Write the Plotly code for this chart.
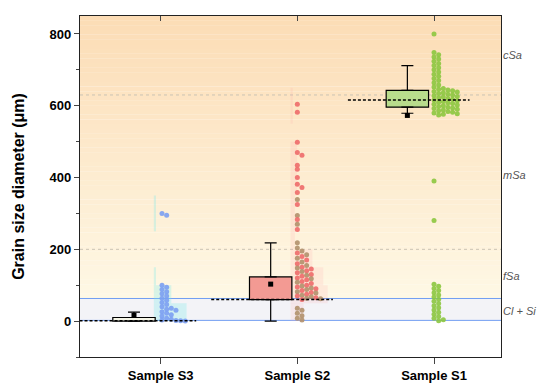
import numpy as np
import plotly.graph_objects as go

# ---------------- data ----------------
categories = ["Sample S3", "Sample S2", "Sample S1"]
cat_pos = [0, 1, 2]

# box statistics (q1, median, q3, lower whisker, upper whisker, mean)
box_q1 = [0, 60, 596]
box_median = [1, 60, 616]
box_q3 = [10, 123, 643]
box_low = [0, 0, 579]
box_high = [25, 218, 712]
box_mean = [16, 103, 573]
box_fill = ["#f6f6e8", "#f39a93", "#b8dc8c"]

s3_values = [300, 295, 100, 94, 88, 82, 76, 70, 64, 58, 52, 46, 40, 36, 33, 30, 26,
             22, 18, 14, 8, 5, 3, 2, 1, 0]
s2_red = [604, 582, 498, 470, 462, 434, 423, 400, 381, 372, 358, 325, 283, 255,
          190, 180, 170, 160, 150, 145, 140, 135, 130, 125, 120, 115, 110, 105,
          100, 95, 90, 85, 80, 75, 70, 65, 60]
s2_brown = [339, 294, 270, 218, 204, 195, 185, 175, 165, 155, 148, 138, 128, 118,
            108, 98, 92, 88, 82, 78, 72, 68, 64, 62, 36, 30, 22, 15, 8, 3]
s1_values = [800,
             748, 742, 736, 730, 724, 718, 712, 706, 700, 694, 688, 682, 676, 670,
             664, 658, 652,
             648, 646, 644, 642, 640, 638, 636, 634, 632, 630, 628, 626, 624, 622,
             620, 618, 616, 614, 612, 610, 608, 606, 604, 602, 600, 598, 596, 594,
             592, 590, 588, 586, 584, 582, 580, 578, 576, 574,
             390, 280,
             103, 97, 91, 85, 79, 73, 67, 61, 55, 49, 43, 37, 31, 25, 19, 13, 8, 4, 1]

zone_labels = ["cSa", "mSa", "fSa", "Cl + Si"]
zone_label_y = [741, 408, 126, 28]
zone_bounds = [2, 63, 200, 630]

# ---------------- helpers ----------------
DX = 0.034
THR = 11.0


def swarm(values, center):
    placed = []
    xs = []
    for v in values:
        k = 0
        while any(pk == k and abs(pv - v) < THR for pk, pv in placed):
            k += 1
        placed.append((k, v))
        xs.append(center + k * DX)
    return xs


def hex2rgb(h):
    h = h.lstrip("#")
    return [int(h[i:i + 2], 16) for i in (0, 2, 4)]


fig = go.Figure()

# background shapes
shapes = []
shapes.append(dict(type="rect", xref="paper", yref="y", x0=0, x1=1, y0=2, y1=63,
                   fillcolor="#f3f3f7", line_width=0, layer="below"))
c0, c1 = hex2rgb("#fef8e5"), hex2rgb("#fcdcb5")
n = 60
lo, hi = 63.0, 850.0
for i in range(n):
    ya = lo + (hi - lo) * i / n
    yb = lo + (hi - lo) * (i + 1) / n
    t = (i + 0.5) / n
    col = "rgb(%d,%d,%d)" % tuple(round(a + (b - a) * t) for a, b in zip(c0, c1))
    shapes.append(dict(type="rect", xref="paper", yref="y", x0=0, x1=1, y0=ya, y1=yb + 0.5,
                       fillcolor=col, line_width=0, layer="below"))
for yv in [zone_bounds[2], zone_bounds[3]]:
    shapes.append(dict(type="line", xref="paper", yref="y", x0=0, x1=1, y0=yv, y1=yv,
                       line=dict(color="#cbc3b4", width=1, dash="dot"), layer="below"))
for yv in [zone_bounds[0], zone_bounds[1]]:
    shapes.append(dict(type="line", xref="paper", yref="y", x0=0, x1=1, y0=yv, y1=yv,
                       line=dict(color="#729ef2", width=1), layer="below"))

# histogram shading behind points
hist_cfg = [
    (s3_values, 0, "rgba(120,235,235,0.28)"),
    (s2_red + s2_brown, 1, "rgba(255,160,170,0.16)"),
]
bins = np.arange(-50, 901, 50)
for vals, c, col in hist_cfg:
    counts, edges = np.histogram(vals, bins=bins)
    centers = (edges[:-1] + edges[1:]) / 2
    mask = counts > 0
    fig.add_trace(go.Bar(y=centers[mask], x=counts[mask] * 0.016, base=c - 0.05,
                         orientation="h", width=50, marker=dict(color=col, line_width=0),
                         hoverinfo="skip", showlegend=False))

# boxes
box_x = [c - 0.195 for c in cat_pos]
fig.add_trace(go.Bar(x=box_x, y=[q3 - q1 for q1, q3 in zip(box_q1, box_q3)], base=box_q1,
                     width=0.31, marker=dict(color=box_fill, line=dict(color="black", width=1.2)),
                     showlegend=False))

# whiskers
fig.add_trace(go.Scatter(x=box_x, y=box_q3, mode="markers", marker=dict(size=1, opacity=0),
                         error_y=dict(type="data", symmetric=False,
                                      array=[h - q for h, q in zip(box_high, box_q3)],
                                      arrayminus=[0, 0, 0], color="black", thickness=1.2, width=6),
                         showlegend=False))
fig.add_trace(go.Scatter(x=box_x, y=box_q1, mode="markers", marker=dict(size=1, opacity=0),
                         error_y=dict(type="data", symmetric=False,
                                      array=[0, 0, 0],
                                      arrayminus=[q - l for q, l in zip(box_q1, box_low)],
                                      color="black", thickness=1.2, width=6),
                         showlegend=False))

# points
s2_all = s2_red + s2_brown
s2_cols = ["#ee6a6a"] * len(s2_red) + ["#b1906c"] * len(s2_brown)
order = np.argsort(s2_all)[::-1]
s2_sorted = [s2_all[i] for i in order]
s2_cols_sorted = [s2_cols[i] for i in order]

fig.add_trace(go.Scatter(x=swarm(s3_values, cat_pos[0] + 0.01), y=s3_values, mode="markers",
                         marker=dict(size=5, color="#7b9ff2", opacity=0.9), showlegend=False))
fig.add_trace(go.Scatter(x=swarm(s2_sorted, cat_pos[1]), y=s2_sorted, mode="markers",
                         marker=dict(size=5, color=s2_cols_sorted, opacity=0.9), showlegend=False))
fig.add_trace(go.Scatter(x=swarm(s1_values, cat_pos[2]), y=s1_values, mode="markers",
                         marker=dict(size=5, color="#8cc63f", opacity=0.9), showlegend=False))

# mean markers
fig.add_trace(go.Scatter(x=box_x, y=box_mean, mode="markers",
                         marker=dict(symbol="square", size=5, color="black"), showlegend=False))

# median dashed lines
for c, m in zip(cat_pos, box_median):
    fig.add_trace(go.Scatter(x=[c - 0.63, c + 0.26], y=[m, m], mode="lines",
                             line=dict(color="black", width=1.4, dash="3px,2px"), showlegend=False,
                             hoverinfo="skip"))

# invisible trace for top axis
fig.add_trace(go.Scatter(x=cat_pos, y=box_median, xaxis="x2", mode="markers",
                         marker=dict(opacity=0), showlegend=False, hoverinfo="skip"))

annotations = []
for lab, yv in zip(zone_labels, zone_label_y):
    annotations.append(dict(x=1.0, xref="paper", y=yv, yref="y", text="<i>%s</i>" % lab,
                            showarrow=False, xanchor="left", yanchor="middle", xshift=0,
                            font=dict(size=11, color="#555555", family="Liberation Sans, Arial")))

xr = [-0.59, 2.49]
fig.update_layout(
    width=550, height=384,
    margin=dict(l=72, r=57, t=8, b=35),
    paper_bgcolor="white", plot_bgcolor="white",
    barmode="overlay",
    font=dict(family="Liberation Sans, Arial", color="black"),
    shapes=shapes, annotations=annotations,
    xaxis=dict(range=xr, tickvals=cat_pos, ticktext=categories, ticks="outside", ticklen=6,
               tickwidth=1.2, showline=True, linecolor="#222222", linewidth=1.2, mirror=True,
               showgrid=False, zeroline=False,
               tickfont=dict(size=13, weight="bold")),
    xaxis2=dict(range=xr, overlaying="x", side="top", anchor="y", tickvals=cat_pos,
                ticks="inside", ticklen=5, tickwidth=1.2, showticklabels=False,
                showline=False, showgrid=False, zeroline=False),
    yaxis=dict(range=[-100, 850], tickvals=[0, 200, 400, 600, 800], ticks="outside",
               ticklen=5, tickwidth=1.2, showline=True, linecolor="#222222", linewidth=1.2,
               mirror=True, showgrid=False, zeroline=False,
               minor=dict(tickvals=[-100, 100, 300, 500, 700], ticks="outside", ticklen=3,
                          tickwidth=1.2, showgrid=False),
               tickfont=dict(size=13, weight="bold"),
               title=dict(text="Grain size diameter (μm)", standoff=20,
                          font=dict(size=16, weight="bold"))),
)

fig.write_html("out.html")
